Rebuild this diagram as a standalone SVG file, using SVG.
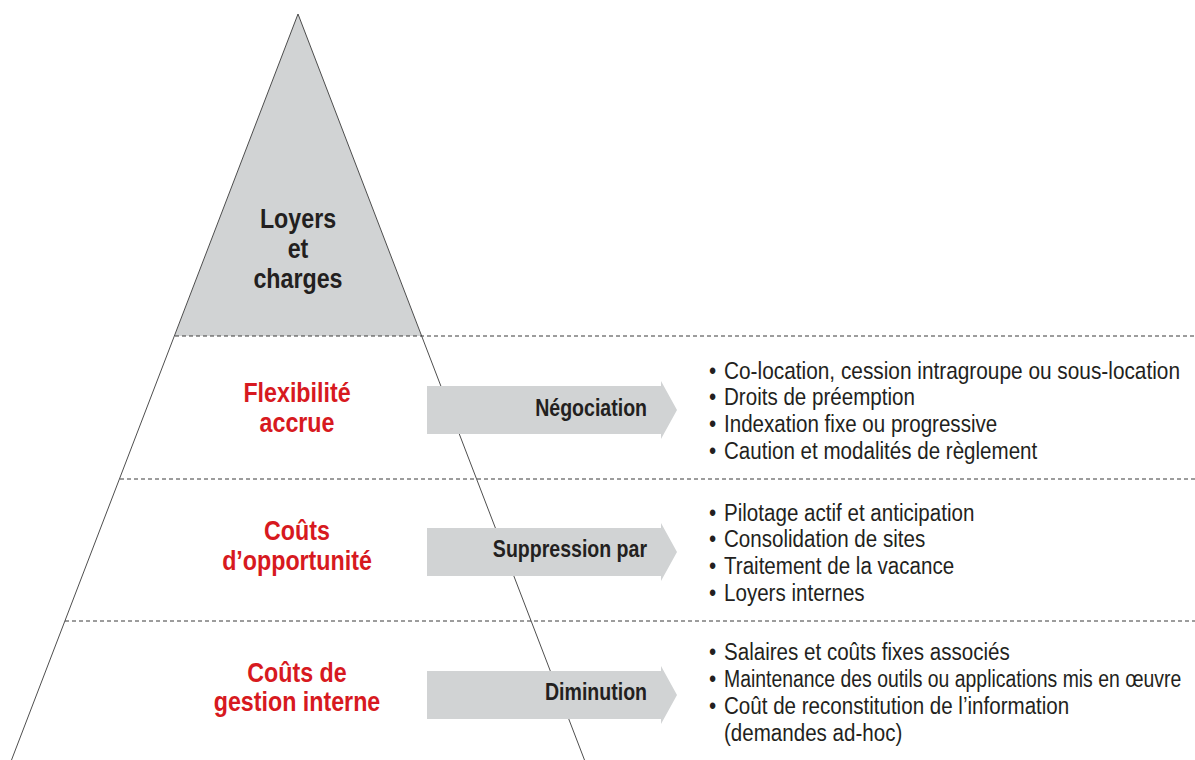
<svg xmlns="http://www.w3.org/2000/svg" width="1195" height="760" viewBox="0 0 1195 760">
<style>
.big{font-family:"Liberation Sans",Arial,sans-serif;font-weight:bold;font-size:28px;text-anchor:middle}
.red{fill:#d71920}
.blk{fill:#231f20}
.arr{fill:#d1d3d4}
.al{font-family:"Liberation Sans",Arial,sans-serif;font-weight:bold;font-size:23px;text-anchor:end;fill:#231f20}
.li{font-family:"Liberation Sans",Arial,sans-serif;font-size:24.5px;fill:#231f20}
.dash{stroke:#3a3a3a;stroke-width:1;stroke-dasharray:4 3;fill:none}
.side{stroke:#3a3a3a;stroke-width:0.9;fill:none}
</style>
<rect width="1195" height="760" fill="#ffffff"/>
<g id="pyramid">
<polygon points="298,14 174.5,336 421.5,336" fill="#d1d3d4"/>
<line class="side" x1="298" y1="14" x2="11.5" y2="760"/>
<line class="side" x1="298" y1="14" x2="584.5" y2="760"/>
</g>
<g id="connectors">
<line class="dash" x1="175" y1="336" x2="1195" y2="336"/>
<line class="dash" x1="120" y1="479" x2="1195" y2="479"/>
<line class="dash" x1="65" y1="621" x2="1195" y2="621"/>
</g>
<g id="top">
<text class="big blk" transform="translate(298,228) scale(0.83,1)">Loyers</text>
<text class="big blk" transform="translate(298,258) scale(0.83,1)">et</text>
<text class="big blk" transform="translate(298,288) scale(0.83,1)">charges</text>
</g>
<g id="level1">
<text class="big red" transform="translate(297,402) scale(0.83,1)">Flexibilité</text>
<text class="big red" transform="translate(297,432) scale(0.83,1)">accrue</text>
</g>
<g id="level2">
<text class="big red" transform="translate(297,540) scale(0.83,1)">Coûts</text>
<text class="big red" transform="translate(297,570) scale(0.83,1)">d’opportunité</text>
</g>
<g id="level3">
<text class="big red" transform="translate(297,682) scale(0.83,1)">Coûts de</text>
<text class="big red" transform="translate(297,711) scale(0.83,1)">gestion interne</text>
</g>
<g id="arrow1">
<polygon class="arr" points="427,386 661,386 661,381 677,410 661,439 661,434 427,434"/>
<text class="al" transform="translate(647,416) scale(0.85,1)">Négociation</text>
</g>
<g id="arrow2">
<polygon class="arr" points="427,528 661,528 661,523 677,552 661,581 661,576 427,576"/>
<text class="al" transform="translate(647,557) scale(0.85,1)">Suppression par</text>
</g>
<g id="arrow3">
<polygon class="arr" points="427,671 661,671 661,666 677,695 661,724 661,719 427,719"/>
<text class="al" transform="translate(647,700) scale(0.85,1)">Diminution</text>
</g>
<g id="list1">
<text class="li" transform="translate(709,379) scale(0.84,1)">•</text>
<text class="li" transform="translate(724,379) scale(0.84,1)" style="font-size:24.8px">Co-location, cession intragroupe ou sous-location</text>
<text class="li" transform="translate(709,405) scale(0.84,1)">•</text>
<text class="li" transform="translate(724,405) scale(0.84,1)">Droits de préemption</text>
<text class="li" transform="translate(709,432) scale(0.84,1)">•</text>
<text class="li" transform="translate(724,432) scale(0.84,1)">Indexation fixe ou progressive</text>
<text class="li" transform="translate(709,459) scale(0.84,1)">•</text>
<text class="li" transform="translate(724,459) scale(0.84,1)">Caution et modalités de règlement</text>
</g>
<g id="list2">
<text class="li" transform="translate(709,521) scale(0.84,1)">•</text>
<text class="li" transform="translate(724,521) scale(0.84,1)">Pilotage actif et anticipation</text>
<text class="li" transform="translate(709,547) scale(0.84,1)">•</text>
<text class="li" transform="translate(724,547) scale(0.84,1)">Consolidation de sites</text>
<text class="li" transform="translate(709,574) scale(0.84,1)">•</text>
<text class="li" transform="translate(724,574) scale(0.84,1)">Traitement de la vacance</text>
<text class="li" transform="translate(709,601) scale(0.84,1)">•</text>
<text class="li" transform="translate(724,601) scale(0.84,1)">Loyers internes</text>
</g>
<g id="list3">
<text class="li" transform="translate(709,660) scale(0.84,1)">•</text>
<text class="li" transform="translate(724,660) scale(0.84,1)">Salaires et coûts fixes associés</text>
<text class="li" transform="translate(709,687) scale(0.84,1)">•</text>
<text class="li" transform="translate(724,687) scale(0.84,1)" style="font-size:23.1px">Maintenance des outils ou applications mis en œuvre</text>
<text class="li" transform="translate(709,714) scale(0.84,1)">•</text>
<text class="li" transform="translate(724,714) scale(0.84,1)">Coût de reconstitution de l’information</text>
<text class="li" transform="translate(724,741) scale(0.84,1)">(demandes ad-hoc)</text>
</g>
</svg>
